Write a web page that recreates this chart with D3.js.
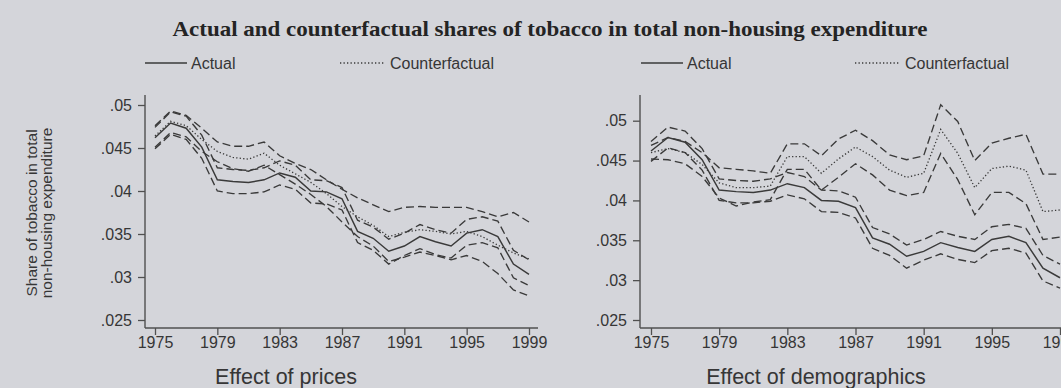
<!DOCTYPE html>
<html>
<head>
<meta charset="utf-8">
<script src="https://cdn.jsdelivr.net/npm/d3@7"></script>
<style>
  html, body { margin: 0; padding: 0; background: #d4d5da; }
  svg { display: block; }
  text { font-family: "Liberation Sans", Arial, sans-serif; fill: #363636; }
</style>
</head>
<body>
<svg id="chart" width="1061" height="388"></svg>
<script>
// Survey years
const years = d3.range(1975, 2000);

// Actual share of tobacco and its band
const actual   = [0.0462,0.0479,0.0473,0.0451,0.0413,0.0411,0.0410,0.0413,0.0421,0.0416,0.0400,0.0399,0.0391,0.0353,0.0345,0.0330,0.0336,0.0347,0.0341,0.0336,0.0351,0.0355,0.0347,0.0315,0.0303];
const actualHi = [0.0474,0.0492,0.0487,0.0465,0.0427,0.0425,0.0424,0.0427,0.0435,0.0430,0.0413,0.0412,0.0404,0.0366,0.0358,0.0344,0.0351,0.0361,0.0355,0.0351,0.0367,0.0370,0.0365,0.0331,0.0320];
const actualLo = [0.0449,0.0466,0.0460,0.0438,0.0400,0.0397,0.0397,0.0399,0.0407,0.0402,0.0386,0.0385,0.0378,0.0340,0.0331,0.0315,0.0325,0.0333,0.0326,0.0322,0.0337,0.0340,0.0334,0.0299,0.0290];

// Counterfactual share holding prices fixed
const cfPrices   = [0.0464,0.0481,0.0476,0.0460,0.0446,0.0439,0.0437,0.0444,0.0430,0.0420,0.0410,0.0397,0.0382,0.0370,0.0360,0.0347,0.0352,0.0355,0.0353,0.0350,0.0353,0.0347,0.0337,0.0328,0.0321];
const cfPricesHi = [0.0476,0.0493,0.0488,0.0473,0.0457,0.0452,0.0452,0.0457,0.0441,0.0432,0.0425,0.0413,0.0402,0.0392,0.0384,0.0376,0.0381,0.0382,0.0381,0.0381,0.0381,0.0376,0.0370,0.0375,0.0364];
const cfPricesLo = [0.0451,0.0468,0.0463,0.0446,0.0434,0.0426,0.0423,0.0430,0.0419,0.0408,0.0396,0.0382,0.0364,0.0347,0.0336,0.0318,0.0323,0.0329,0.0325,0.0320,0.0325,0.0318,0.0304,0.0285,0.0278];

// Counterfactual share holding demographics fixed
const cfDemog   = [0.0460,0.0465,0.0460,0.0445,0.0422,0.0416,0.0416,0.0418,0.0455,0.0455,0.0434,0.0452,0.0467,0.0455,0.0438,0.0429,0.0434,0.0489,0.0459,0.0416,0.0440,0.0443,0.0438,0.0386,0.0388];
const cfDemogHi = [0.0469,0.0479,0.0474,0.0460,0.0441,0.0439,0.0437,0.0434,0.0471,0.0471,0.0456,0.0477,0.0488,0.0475,0.0457,0.0451,0.0456,0.0520,0.0499,0.0450,0.0472,0.0478,0.0483,0.0433,0.0433];
const cfDemogLo = [0.0452,0.0451,0.0446,0.0430,0.0403,0.0393,0.0398,0.0401,0.0439,0.0439,0.0413,0.0429,0.0446,0.0432,0.0413,0.0406,0.0410,0.0459,0.0426,0.0382,0.0410,0.0410,0.0396,0.0351,0.0354];

// Axis ticks
const yTicks = [0.025, 0.03, 0.035, 0.04, 0.045, 0.05];
const yTickLabels = [".025", ".03", ".035", ".04", ".045", ".05"];
const xTicks = [1975, 1979, 1983, 1987, 1991, 1995, 1999];

const titleText = "Actual and counterfactual shares of tobacco in total non-housing expenditure";
const legendLabels = ["Actual", "Counterfactual"];
const yAxisTitle = ["Share of tobacco in total", "non-housing expenditure"];

const svg = d3.select("#chart");
const ink = "#3a3a3a";
const axisInk = "#505050";
const dashed = "8,4";
const dotted = "1.3,2.2";

svg.append("text")
  .attr("x", 550).attr("y", 36)
  .attr("text-anchor", "middle")
  .attr("textLength", 755).attr("lengthAdjust", "spacingAndGlyphs")
  .style("font-family", "'Liberation Serif', 'Times New Roman', serif")
  .style("font-weight", "bold").style("font-size", "21px")
  .style("fill", "#242424")
  .text(titleText);

const panels = [
  { name: "Effect of prices", cf: cfPrices, cfHi: cfPricesHi, cfLo: cfPricesLo,
    xr: [155, 529], yr: [320, 105], axisX: 145, axisTop: 95, axisBottom: 328, axisRight: 538,
    legendX: [145, 340], titleX: 286, yTitle: true },
  { name: "Effect of demographics", cf: cfDemog, cfHi: cfDemogHi, cfLo: cfDemogLo,
    xr: [651, 1060], yr: [320, 120.7], axisX: 640, axisTop: 95, axisBottom: 328, axisRight: 1075,
    legendX: [641, 855], titleX: 816, yTitle: false }
];

panels.forEach(p => {
  const x = d3.scaleLinear().domain([1975, 1999]).range(p.xr);
  const y = d3.scaleLinear().domain([0.025, 0.05]).range(p.yr);
  const g = svg.append("g");

  // axes
  const yAxis = d3.axisLeft(y).tickValues(yTicks).tickSize(7).tickPadding(6)
    .tickFormat((d, i) => yTickLabels[i]);
  const ya = g.append("g").attr("transform", `translate(${p.axisX},0)`).call(yAxis);
  ya.select(".domain").remove();
  ya.append("line").attr("x1", 0).attr("x2", 0).attr("y1", p.axisTop).attr("y2", p.axisBottom)
    .attr("stroke", axisInk).attr("stroke-width", 1.4);

  const xAxis = d3.axisBottom(x).tickValues(xTicks).tickSize(7).tickPadding(2)
    .tickFormat(d3.format("d"));
  const xa = g.append("g").attr("transform", `translate(0,${p.axisBottom})`).call(xAxis);
  xa.select(".domain").remove();
  xa.append("line").attr("x1", p.axisX).attr("x2", p.axisRight).attr("y1", 0).attr("y2", 0)
    .attr("stroke", axisInk).attr("stroke-width", 1.4);

  g.selectAll(".tick line").attr("stroke", axisInk).attr("stroke-width", 1.3);
  g.selectAll(".tick text").style("font-size", "16px")
    .style("font-family", "'Liberation Sans', Arial, sans-serif").attr("fill", ink);

  // series
  const line = d3.line().x((d, i) => x(years[i])).y(d => y(d));
  const series = [
    { v: p.cfHi, dash: dashed, w: 1.35 },
    { v: p.cfLo, dash: dashed, w: 1.35 },
    { v: actualHi, dash: dashed, w: 1.35 },
    { v: actualLo, dash: dashed, w: 1.35 },
    { v: p.cf, dash: dotted, w: 1.3 },
    { v: actual, dash: null, w: 1.45 }
  ];
  g.selectAll("path.series").data(series).join("path")
    .attr("class", "series")
    .attr("d", s => line(s.v))
    .attr("fill", "none")
    .attr("stroke", ink)
    .attr("stroke-width", s => s.w)
    .attr("stroke-dasharray", s => s.dash);

  // legend
  const ly = 63;
  g.append("line").attr("x1", p.legendX[0]).attr("x2", p.legendX[0] + 42).attr("y1", ly).attr("y2", ly)
    .attr("stroke", ink).attr("stroke-width", 1.45);
  g.append("text").attr("x", p.legendX[0] + 46).attr("y", ly + 6).style("font-size", "16px").text(legendLabels[0]);
  g.append("line").attr("x1", p.legendX[1]).attr("x2", p.legendX[1] + 45).attr("y1", ly).attr("y2", ly)
    .attr("stroke", ink).attr("stroke-width", 1.3).attr("stroke-dasharray", dotted);
  g.append("text").attr("x", p.legendX[1] + 50).attr("y", ly + 6).style("font-size", "16px").text(legendLabels[1]);

  // panel caption
  g.append("text").attr("x", p.titleX).attr("y", 384).attr("text-anchor", "middle")
    .style("font-size", "21.5px").text(p.name);

  if (p.yTitle) {
    const t = g.append("text").attr("transform", "translate(0,213) rotate(-90)")
      .attr("text-anchor", "middle").style("font-size", "15.5px");
    t.append("tspan").attr("x", 0).attr("y", 37).text(yAxisTitle[0]);
    t.append("tspan").attr("x", 0).attr("y", 52).text(yAxisTitle[1]);
  }
});
</script>
</body>
</html>
